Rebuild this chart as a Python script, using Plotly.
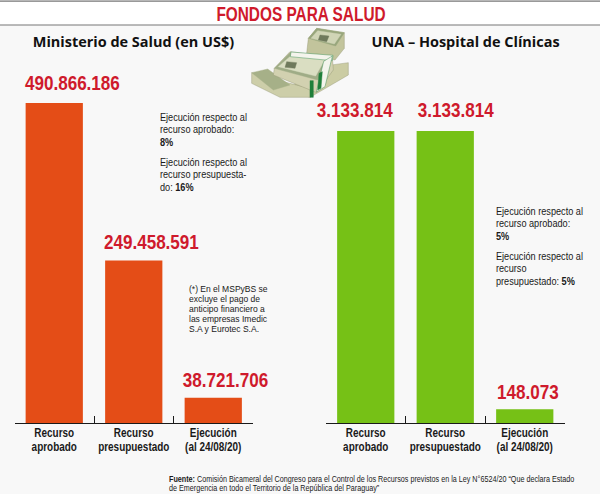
import json
import plotly.graph_objects as go

categories = ["Recurso<br>aprobado", "Recurso<br>presupuestado", "Ejecución<br>(al 24/08/20)"]
salud_values = [490866186, 249458591, 38721706]
salud_labels = ["490.866.186", "249.458.591", "38.721.706"]
una_values = [3133814, 3133814, 148073]
una_labels = ["3.133.814", "3.133.814", "148.073"]

W, H = 600, 494
BODY = "Liberation Sans, Arial, sans-serif"
HEAD = "Open Sans, Noto Sans, sans-serif"
RED = "#cf1a2c"
ORANGE = "#e44d17"
GREEN = "#76c116"
BG = "#f8f8f8"
INK = "#1a1a1a"

# font size -> [horizontal squeeze, line spacing factor]; the reference is set in a condensed face
SIZES = {"20": [0.77, 1], "15": [0.965, 1], "21": [0.813, 1], "13": [0.765, 0.83],
         "11.5": [0.797, 0.836], "9.8": [0.87, 0.785], "8.6": [0.837, 0.8]}


def px(x):
    return x / W


def py(y):
    return 1 - y / H


fig = go.Figure()
fig.add_bar(x=categories, y=salud_values, marker_color=ORANGE, xaxis="x", yaxis="y", width=0.72)
fig.add_bar(x=categories, y=una_values, marker_color=GREEN, xaxis="x2", yaxis="y2", width=0.72)
fig.update_traces(marker_line_width=0, hoverinfo="skip")

xa = dict(type="category", tickson="boundaries", ticks="inside", ticklen=7, tickwidth=1.2,
          tickcolor=INK, showline=True, linecolor=INK, linewidth=1.2, showgrid=False,
          zeroline=False, fixedrange=True, tickangle=0, range=[-0.5, 2.5], ticklabelstandoff=-3,
          tickfont=dict(family=BODY, size=13, color=INK, weight="bold"))
ya = dict(showticklabels=False, showgrid=False, zeroline=False, ticks="", showline=False, fixedrange=True)

fig.update_layout(
    width=W, height=H, margin=dict(l=0, r=0, t=0, b=0), autosize=False,
    paper_bgcolor=BG, plot_bgcolor=BG, showlegend=False,
    xaxis={**xa, "domain": [px(14.5), px(253)], "anchor": "y"},
    xaxis2={**xa, "domain": [px(326), px(564.5)], "anchor": "y2"},
    yaxis={**ya, "domain": [py(423), py(103)], "range": [0, salud_values[0]], "anchor": "x"},
    yaxis2={**ya, "domain": [py(423), py(131)], "range": [0, una_values[0]], "anchor": "x2"},
)

shapes = [
    dict(type="rect", xref="paper", yref="paper", x0=0, x1=1, y0=py(25), y1=py(1),
         fillcolor="white", line=dict(width=0), layer="below"),
    dict(type="line", xref="paper", yref="paper", x0=0, x1=1, y0=py(1.2), y1=py(1.2),
         line=dict(color="#777777", width=1.2)),
    dict(type="line", xref="paper", yref="paper", x0=0, x1=1, y0=py(25), y1=py(25),
         line=dict(color="#777777", width=1.2)),
]


def poly(points, fill, line=None):
    pts = [(245 + a / 3, 20 + b / 3) for a, b in points]
    d = "M" + " L".join(f"{px(x):.5f},{py(y):.5f}" for x, y in pts) + " Z"
    shapes.append(dict(type="path", xref="paper", yref="paper", path=d, fillcolor=fill,
                       line=dict(color=line or fill, width=0.4)))


# decorative banknote bundle (points in a local 110x80 box, 3x)
poly([(190, 55), (215, 25), (298, 38), (298, 85), (270, 120), (185, 100)], "#c2c49c", "#8f9270")
poly([(190, 55), (215, 25), (298, 38), (272, 78)], "#98a67c")
poly([(198, 55), (218, 32), (288, 43), (268, 72)], "#d0d5b6")
poly([(225, 45), (252, 48), (245, 65), (220, 60)], "#6f7a5c")
poly([(150, 150), (310, 128), (310, 165), (195, 232), (150, 215)], "#cbcca3", "#8f9270")
poly([(20, 158), (20, 190), (105, 232), (195, 232), (195, 205), (85, 178)], "#cdcea9", "#8f9270")
poly([(20, 158), (68, 147), (135, 195), (85, 210)], "#a6b088")
poly([(88, 145), (135, 95), (262, 110), (265, 150), (215, 218), (85, 165)], "#d2d1b0", "#8f9270")
poly([(88, 145), (135, 98), (255, 112), (218, 180)], "#9fac86")
poly([(100, 140), (138, 107), (240, 118), (212, 168)], "#dadec2")
poly([(125, 125), (155, 128), (150, 145), (120, 142)], "#6f7a5c")
poly([(138, 96), (264, 106), (262, 122), (136, 110)], "#f4f4ec", "#1f7f3a")
poly([(236, 124), (262, 108), (240, 200), (214, 216)], "#f4f4ec", "#1f7f3a")
poly([(222, 160), (232, 155), (228, 205), (218, 210)], "#1f7f3a")
poly([(195, 182), (205, 182), (205, 232), (195, 232)], "#1f7f3a")

fig.update_layout(shapes=shapes)


def note(x, y, text, size=11.5, family=BODY, color=INK, anchor="left", valign="top"):
    fig.add_annotation(xref="paper", yref="paper", x=px(x), y=py(y), text=text, showarrow=False,
                       xanchor=anchor, yanchor=valign, align=anchor,
                       font=dict(family=family, size=size, color=color), borderpad=0)


def value_labels(axis_x, axis_y, labels, values, dx, dy):
    for c, t, v, a, b in zip(categories, labels, values, dx, dy):
        fig.add_annotation(xref=axis_x, yref=axis_y, x=c, y=v, text=f"<b>{t}</b>", showarrow=False,
                           xanchor="center", yanchor="middle", xshift=a, yshift=b,
                           font=dict(family=BODY, size=21, color=RED), borderpad=0)


value_labels("x", "y", salud_labels, salud_values, [18, 17.5, 12], [20.5, 19, 18.5])
value_labels("x2", "y2", una_labels, una_values, [-10.5, 10.5, 3.5], [21.5, 21.5, 17.5])

note(301, 13.5, "<b>FONDOS PARA SALUD</b>", size=20, color=RED, anchor="center", valign="middle")
note(133, 41, "<b>Ministerio de Salud (en US$)</b>", size=15, family=HEAD, color="#111111", anchor="center", valign="middle")
note(466, 41, "<b>UNA – Hospital de Clínicas</b>", size=15, family=HEAD, color="#111111", anchor="center", valign="middle")

note(159, 110, "Ejecución respecto al<br>recurso aprobado:<br><b>8%</b>")
note(159, 155, "Ejecución respecto al<br>recurso presupuesta-<br>do: <b>16%</b>")
note(495, 204, "Ejecución respecto al<br>recurso aprobado:<br><b>5%</b>")
note(495, 249, "Ejecución respecto al<br>recurso<br>presupuestado: <b>5%</b>")
note(188, 282, "(*) En el MSPyBS se<br>excluye el pago de<br>anticipo financiero a<br>las empresas Imedic<br>S.A y Eurotec S.A.", size=9.8)
note(168, 473, "<b>Fuente:</b> Comisión Bicameral del Congreso para el Control de los Recursos previstos en la Ley N°6524/20 “Que declara Estado<br>de Emergencia en todo el Territorio de la República del Paraguay”", size=8.6)

post = """
document.documentElement.style.margin='0';
document.body.style.margin='0';
document.body.style.overflow='hidden';
var gd=document.getElementById('{plot_id}');
var sizes=%s;
gd.querySelectorAll('text').forEach(function(t){
  var fs=String(parseFloat(t.style.fontSize));
  var s=sizes[fs]; if(!s) return;
  var x=parseFloat(t.getAttribute('x'))||0;
  var prev=t.getAttribute('transform')||'';
  t.setAttribute('transform',prev+' translate('+x+',0) scale('+s[0]+',1) translate('+(-x)+',0)');
  t.querySelectorAll('tspan.line').forEach(function(l){
    var d=parseFloat(l.getAttribute('dy'));
    if(d) l.setAttribute('dy',(d*s[1])+'em');
  });
});
""" % json.dumps(SIZES)

fig.write_html("out.html", config=dict(displayModeBar=False), post_script=post)
